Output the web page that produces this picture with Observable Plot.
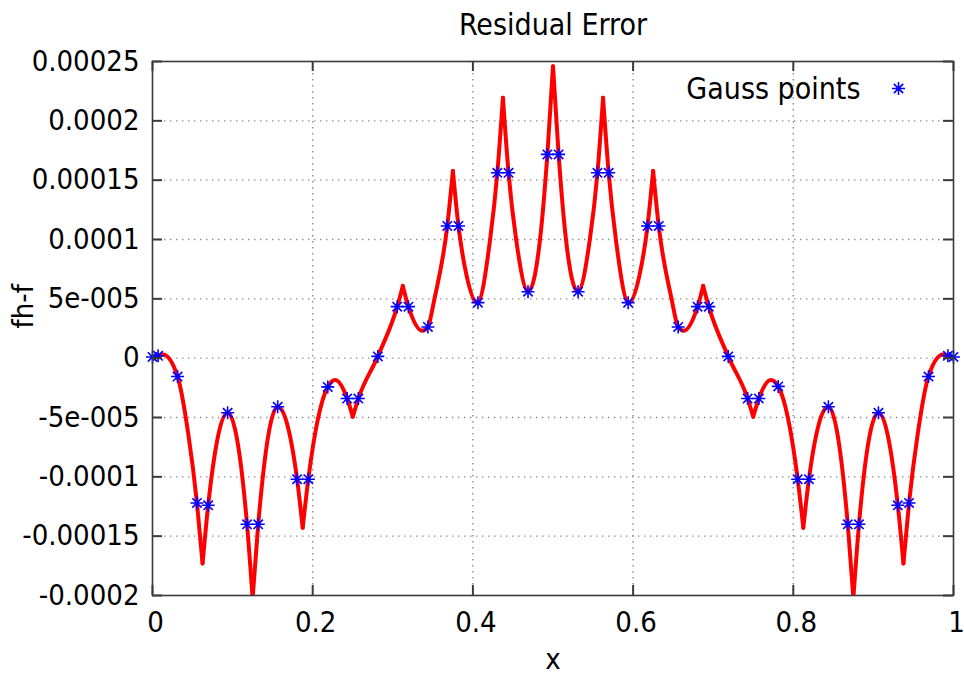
<!DOCTYPE html>
<html><head><meta charset="utf-8">
<script src="https://cdn.jsdelivr.net/npm/d3@7"></script>
<script src="https://cdn.jsdelivr.net/npm/@observablehq/plot@0.6"></script>
<style>body{margin:0;background:#fff}</style>
</head><body><div id="chart"></div>
<script>
const titleText = "Residual Error";
const xLabelText = "x";
const yLabelText = "fh-f";
const legendText = "Gauss points";

const xTicks = [0, 0.2, 0.4, 0.6, 0.8, 1];
const xTickLabels = ["0", "0.2", "0.4", "0.6", "0.8", "1"];
const yTicks = [-0.0002, -0.00015, -0.0001, -0.00005, 0, 0.00005, 0.0001, 0.00015, 0.0002, 0.00025];
const yTickLabels = ["-0.0002", "-0.00015", "-0.0001", "-5e-005", "0", "5e-005", "0.0001", "0.00015", "0.0002", "0.00025"];

// residual curve; one smooth piece per element (cusps at element nodes)
const curveElem = [
  0,0,0,0,0,0,0,
  1,1,1,1,1,
  2,2,2,2,2,
  3,3,3,3,3,3,
  4,4,4,4,4,
  5,5,5,5,5,5,5,
  6,6,6,6,6,6,6,
  7,7,7,7,7,7,7,
  8,8,8,8,8,8,8,
  9,9,9,9,9,9,9,
  10,10,10,10,10,10,10,
  11,11,11,11,11,
  12,12,12,12,12,12,
  13,13,13,13,13,
  14,14,14,14,14,
  15,15,15,15,15,15,15
];
const curveX = [
  0, 0.007, 0.013, 0.0313, 0.0445, 0.0555, 0.0625,
  0.0625, 0.0695, 0.0938, 0.118, 0.125,
  0.125, 0.132, 0.1563, 0.1805, 0.1875,
  0.1875, 0.1945, 0.2188, 0.228, 0.243, 0.25,
  0.25, 0.257, 0.2813, 0.3055, 0.3125,
  0.3125, 0.3195, 0.337, 0.3438, 0.352, 0.368, 0.375,
  0.375, 0.382, 0.392, 0.4055, 0.4215, 0.4305, 0.4375,
  0.4375, 0.4445, 0.454, 0.469, 0.4838, 0.493, 0.5,
  0.5, 0.507, 0.5162, 0.531, 0.546, 0.5555, 0.5625,
  0.5625, 0.5695, 0.5785, 0.5945, 0.608, 0.618, 0.625,
  0.625, 0.632, 0.648, 0.6562, 0.663, 0.6805, 0.6875,
  0.6875, 0.6945, 0.7187, 0.743, 0.75,
  0.75, 0.757, 0.772, 0.7812, 0.8055, 0.8125,
  0.8125, 0.8195, 0.8437, 0.868, 0.875,
  0.875, 0.882, 0.9062, 0.9305, 0.9375,
  0.9375, 0.9445, 0.9555, 0.9687, 0.987, 0.993, 1
];
const curveY = [
  0.1e-5, 0.2e-5, 0.3e-5, -1.55e-5, -6.3e-5, -12.2e-5, -17.3e-5,
  -17.3e-5, -12.4e-5, -4.6e-5, -14.0e-5, -20.2e-5,
  -20.2e-5, -14.0e-5, -4.1e-5, -10.2e-5, -14.3e-5,
  -14.3e-5, -10.2e-5, -2.42e-5, -1.85e-5, -3.4e-5, -4.94e-5,
  -4.94e-5, -3.4e-5, 0.15e-5, 4.34e-5, 6.09e-5,
  6.09e-5, 4.34e-5, 2.3e-5, 2.63e-5, 5.0e-5, 11.14e-5, 15.77e-5,
  15.77e-5, 11.14e-5, 7.0e-5, 4.65e-5, 10.0e-5, 15.62e-5, 21.94e-5,
  21.94e-5, 15.62e-5, 10.0e-5, 5.6e-5, 10.0e-5, 17.17e-5, 24.6e-5,
  24.6e-5, 17.17e-5, 10.0e-5, 5.6e-5, 10.0e-5, 15.62e-5, 21.94e-5,
  21.94e-5, 15.62e-5, 10.0e-5, 4.65e-5, 7.0e-5, 11.14e-5, 15.77e-5,
  15.77e-5, 11.14e-5, 5.0e-5, 2.63e-5, 2.3e-5, 4.34e-5, 6.09e-5,
  6.09e-5, 4.34e-5, 0.15e-5, -3.4e-5, -4.94e-5,
  -4.94e-5, -3.4e-5, -1.85e-5, -2.38e-5, -10.2e-5, -14.3e-5,
  -14.3e-5, -10.2e-5, -4.1e-5, -14.0e-5, -20.2e-5,
  -20.2e-5, -14.0e-5, -4.6e-5, -12.4e-5, -17.3e-5,
  -17.3e-5, -12.2e-5, -6.3e-5, -1.55e-5, 0.3e-5, 0.2e-5, 0.1e-5
];

// Gauss points (plus the two boundary points drawn at x = 0 and x = 1)
const gaussX = [
  0, 0.007, 0.0313, 0.0555, 0.0695, 0.0938, 0.118, 0.132, 0.1563, 0.1805, 0.1945, 0.2188, 0.243,
  0.257, 0.2813, 0.3055, 0.3195, 0.3438, 0.368, 0.382, 0.4063, 0.4305, 0.4445, 0.4688, 0.493,
  0.507, 0.5313, 0.5555, 0.5695, 0.5938, 0.618, 0.632, 0.6563, 0.6805, 0.6945, 0.7188, 0.743,
  0.757, 0.7812, 0.8055, 0.8195, 0.8438, 0.868, 0.882, 0.9063, 0.9305, 0.9445, 0.9688, 0.993, 1
];
const gaussY = [
  0.1e-5, 0.2e-5, -1.55e-5, -12.2e-5, -12.4e-5, -4.6e-5, -14.0e-5, -14.0e-5, -4.1e-5, -10.2e-5, -10.2e-5, -2.42e-5, -3.4e-5,
  -3.4e-5, 0.15e-5, 4.34e-5, 4.34e-5, 2.63e-5, 11.14e-5, 11.14e-5, 4.68e-5, 15.62e-5, 15.62e-5, 5.6e-5, 17.17e-5,
  17.17e-5, 5.6e-5, 15.62e-5, 15.62e-5, 4.68e-5, 11.14e-5, 11.14e-5, 2.63e-5, 4.34e-5, 4.34e-5, 0.15e-5, -3.4e-5,
  -3.4e-5, -2.38e-5, -10.2e-5, -10.2e-5, -4.1e-5, -14.0e-5, -14.0e-5, -4.6e-5, -12.4e-5, -12.2e-5, -1.55e-5, 0.2e-5, 0.1e-5
];

const curve = curveX.map((x, i) => ({x, y: curveY[i], e: curveElem[i]}));
const gauss = gaussX.map((x, i) => ({x, y: gaussY[i]}));

const W = 964, H = 677, mL = 152, mR = 11, mT = 61, mB = 82;
const pw = W - mL - mR, ph = H - mT - mB;
const tickLen = 10;
const frameColor = "#3a3a3a";
const fontSize = 29;

// gnuplot-style asterisk (+ and x superimposed)
const gnuStar = {
  draw(ctx, size) {
    const r = Math.sqrt(size / Math.PI);
    const d = r * 0.72;
    ctx.moveTo(-r, 0); ctx.lineTo(r, 0);
    ctx.moveTo(0, -r); ctx.lineTo(0, r);
    ctx.moveTo(-d, -d); ctx.lineTo(d, d);
    ctx.moveTo(-d, d); ctx.lineTo(d, -d);
  }
};

const labelOf = (ticks, labels) => d => {
  const i = ticks.findIndex(t => Math.abs(t - d) < 1e-12);
  return i >= 0 ? labels[i] : "";
};

const chart = Plot.plot({
  width: W, height: H,
  marginLeft: mL, marginRight: mR, marginTop: mT, marginBottom: mB,
  style: {fontFamily: "'DejaVu Sans Condensed', 'DejaVu Sans', sans-serif", fontStretch: "condensed", fontSize: fontSize + "px", color: "#000", background: "#fff"},
  x: {domain: [0, 1]},
  y: {domain: [-0.0002, 0.00025]},
  marks: [
    Plot.gridX(xTicks.slice(1, -1), {stroke: "#8c8c8c", strokeOpacity: 1, strokeWidth: 1.4, strokeDasharray: "1.4,4.6"}),
    Plot.gridY(yTicks.slice(1, -1), {stroke: "#8c8c8c", strokeOpacity: 1, strokeWidth: 1.4, strokeDasharray: "1.4,4.6"}),
    Plot.line(curve, {x: "x", y: "y", z: "e", stroke: "#ff0000", strokeWidth: 4, curve: "monotone-x", clip: true}),
    Plot.dot(gauss, {x: "x", y: "y", symbol: gnuStar, r: 6.5, fill: "none", stroke: "#0000ff", strokeWidth: 1.6}),
    Plot.ruleY(yTicks, {insetRight: pw - tickLen, stroke: frameColor, strokeWidth: 2}),
    Plot.ruleY(yTicks, {insetLeft: pw - tickLen, stroke: frameColor, strokeWidth: 2}),
    Plot.ruleX(xTicks, {insetTop: ph - tickLen, stroke: frameColor, strokeWidth: 2}),
    Plot.ruleX(xTicks, {insetBottom: ph - tickLen, stroke: frameColor, strokeWidth: 2}),
    Plot.frame({stroke: frameColor, strokeWidth: 1.6}),
    Plot.axisX({ticks: xTicks, tickFormat: labelOf(xTicks, xTickLabels), tickSize: 0, tickPadding: 16, dx: 3, label: null}),
    Plot.axisY({ticks: yTicks, tickFormat: labelOf(yTicks, yTickLabels), tickSize: 0, tickPadding: 13, label: null}),
    Plot.text([titleText], {text: d => d, frameAnchor: "top", lineAnchor: "middle", dy: -36, fontSize: 30}),
    Plot.text([xLabelText], {text: d => d, frameAnchor: "bottom", lineAnchor: "middle", dy: 64, fontSize: 29}),
    Plot.text([yLabelText], {text: d => d, frameAnchor: "left", lineAnchor: "middle", dx: -129, rotate: -90, fontSize: 29}),
    Plot.text([legendText], {text: d => d, frameAnchor: "top-right", lineAnchor: "middle", dx: -93, dy: 28, textAnchor: "end", fontSize: 30}),
    Plot.dot([legendText], {x: null, y: null, frameAnchor: "top-right", dx: -55, dy: 27, symbol: gnuStar, r: 6.5, fill: "none", stroke: "#0000ff", strokeWidth: 1.6})
  ]
});
document.getElementById("chart").appendChild(chart);
</script>
</body></html>
